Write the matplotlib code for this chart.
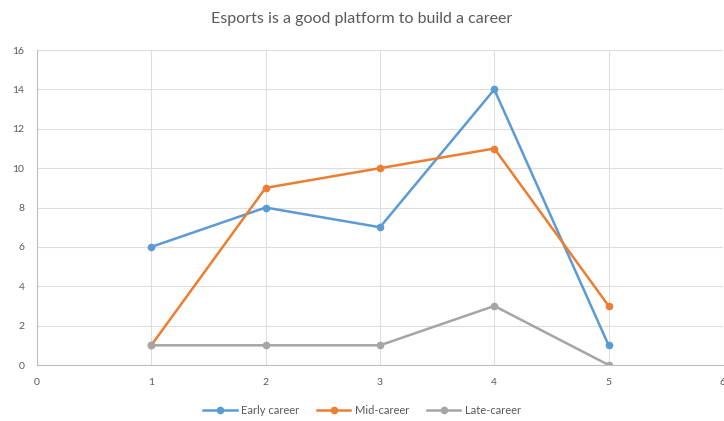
import matplotlib.pyplot as plt

x = [1, 2, 3, 4, 5]
early = [6, 8, 7, 14, 1]
mid = [1, 9, 10, 11, 3]
late = [1, 1, 1, 3, 0]
labels = ["Early career", "Mid-career", "Late-career"]
colors = ["#5B9BD5", "#ED7D31", "#A5A5A5"]

plt.rcParams['font.family'] = ['Lato', 'DejaVu Sans']

fig = plt.figure(figsize=(7.24, 4.21), dpi=100)
ax = fig.add_axes([0.051, 0.133, 0.9476, 0.748])

for ys, lab, c in zip([early, mid, late], labels, colors):
    ax.plot(x, ys, color=c, lw=1.8, marker='o', ms=4.5, label=lab)

ax.set_xlim(0, 6)
ax.set_ylim(0, 16)
ax.set_xticks(range(0, 7))
ax.set_yticks(range(0, 17, 2))
ax.grid(True, color='#DDDDDD', lw=0.8)
ax.set_axisbelow(True)
for s in ['top', 'right']:
    ax.spines[s].set_visible(False)
for s in ['left', 'bottom']:
    ax.spines[s].set_color('#BFBFBF')
ax.tick_params(length=0, labelsize=7.5, colors='#595959', pad=9)

fig.text(0.5, 0.955, "Esports is a good platform to build a career",
         ha='center', va='center', fontsize=11.5, color='#595959')

ax.legend(loc='upper center', bbox_to_anchor=(0.474, -0.095), ncol=3,
          frameon=False, fontsize=8, labelcolor='#595959',
          handlelength=3, columnspacing=1.6, handletextpad=0.4)

fig.savefig("out.png", dpi=100)
